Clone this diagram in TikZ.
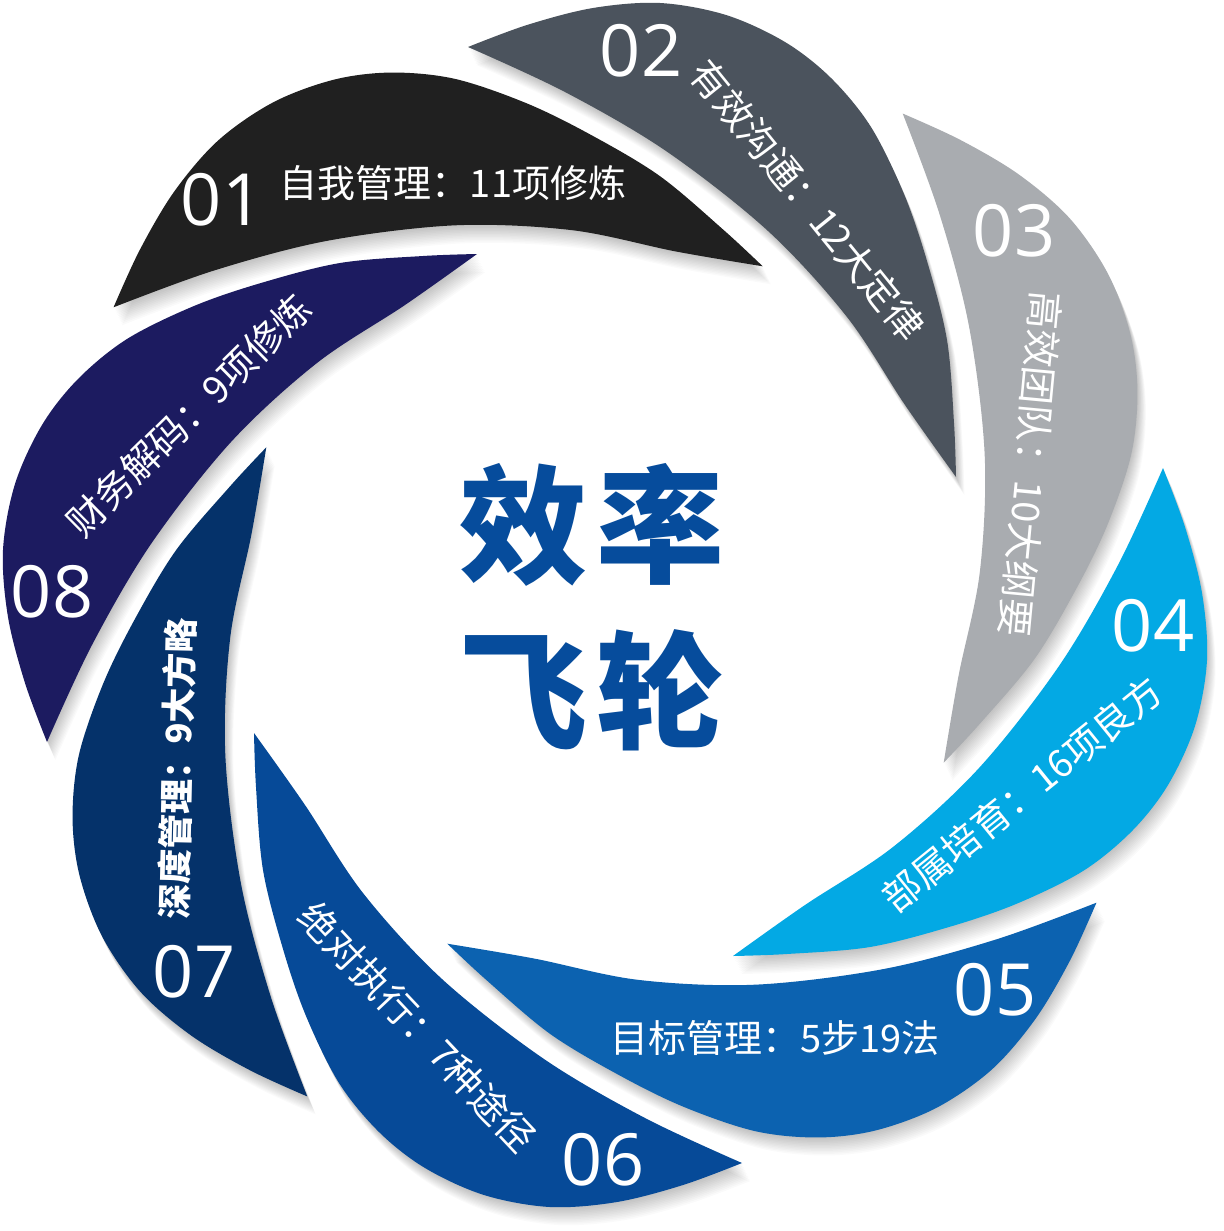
\documentclass[tikz,border=0pt]{standalone}
\usepackage{fontspec}
\newfontfamily\cjk{Noto Sans CJK SC}
\newfontfamily\numfont{Open Sans}
\definecolor{b1}{HTML}{202020}
\definecolor{b2}{HTML}{4B535D}
\definecolor{b3}{HTML}{A9ACB0}
\definecolor{b4}{HTML}{03A9E4}
\definecolor{b5}{HTML}{0C62B0}
\definecolor{b6}{HTML}{064A98}
\definecolor{b7}{HTML}{05326A}
\definecolor{b8}{HTML}{1C1B60}
\definecolor{ctext}{HTML}{064C9C}
\newcommand\bladeshape{plot[smooth,tension=0.55] coordinates {(-351,128) (-349,182) (-342,265) (-322,344) (-299,411) (-266,478) (-226,527) (-180,563) (-121,590) (-55,602) (12,597) (78,580) (137,558)} -- plot[smooth,tension=0.55] coordinates {(137,558) (40,513) (-61,454) (-163,374) (-242,288) (-300,200) (-351,128)} -- cycle}
\begin{document}
\begin{tikzpicture}[x=0.5pt,y=-0.5pt,
  num/.style={text=white,font=\numfont\fontsize{36}{36}\selectfont,inner sep=0pt},
  lab/.style={text=white,font=\cjk\fontsize{19}{19}\selectfont,inner sep=0pt},
  labb/.style={text=white,font=\cjk\bfseries\fontsize{17.5}{17.5}\selectfont,inner sep=0pt},
  centre/.style={text=ctext,font=\cjk\bfseries\fontsize{64}{64}\selectfont,inner sep=0pt}]
\useasboundingbox[fill=white] (0,0) rectangle (1223,1231);
% soft shadows
\foreach \k in {1,...,8}{
  \foreach \s in {1,...,12}{
    \fill[black,opacity=0.018,shift={(605+0.7*\s,605+1.5*\s)},rotate={(6-\k)*45}] \bladeshape;
  }
}
% blades
\foreach \k/\c in {1/b1,2/b2,3/b3,4/b4,5/b5,6/b6,7/b7,8/b8}{
  \fill[\c,shift={(605,605)},rotate={(6-\k)*45}] \bladeshape;
}
% numbers
\node[num] (n01) at (222,200) {01};
\node[num] (n02) at (641,51) {02};
\node[num] (n03) at (1014,231) {03};
\node[num] (n04) at (1153,626) {04};
\node[num] (n05) at (995,990) {05};
\node[num] (n06) at (603,1160) {06};
\node[num] (n07) at (194,972) {07};
\node[num] (n08) at (52,592) {08};
% labels
\node[lab] (l01) at (453,183) {自我管理：11项修炼};
\node[lab,rotate=-51] (l02) at (808,200) {有效沟通：12大定律};
\node[lab,rotate=-95.4] (l03) at (1031,464) {高效团队：10大纲要};
\node[lab,rotate=39] (l04) at (1022,794) {部属培育：16项良方};
\node[lab] (l05) at (775,1038) {目标管理：5步19法};
\node[lab,rotate=-46.7] (l06) at (418,1027) {绝对执行：7种途径};
\node[labb,rotate=88.7] (l07) at (177,769) {深度管理：9大方略};
\node[lab,rotate=44.5] (l08) at (189,415) {财务解码：9项修炼};
% centre title
\node[centre] (c1) at (592,525) {效\hspace{5pt}率};
\node[centre] (c2) at (592,690) {飞\hspace{5pt}轮};
\end{tikzpicture}
\end{document}
